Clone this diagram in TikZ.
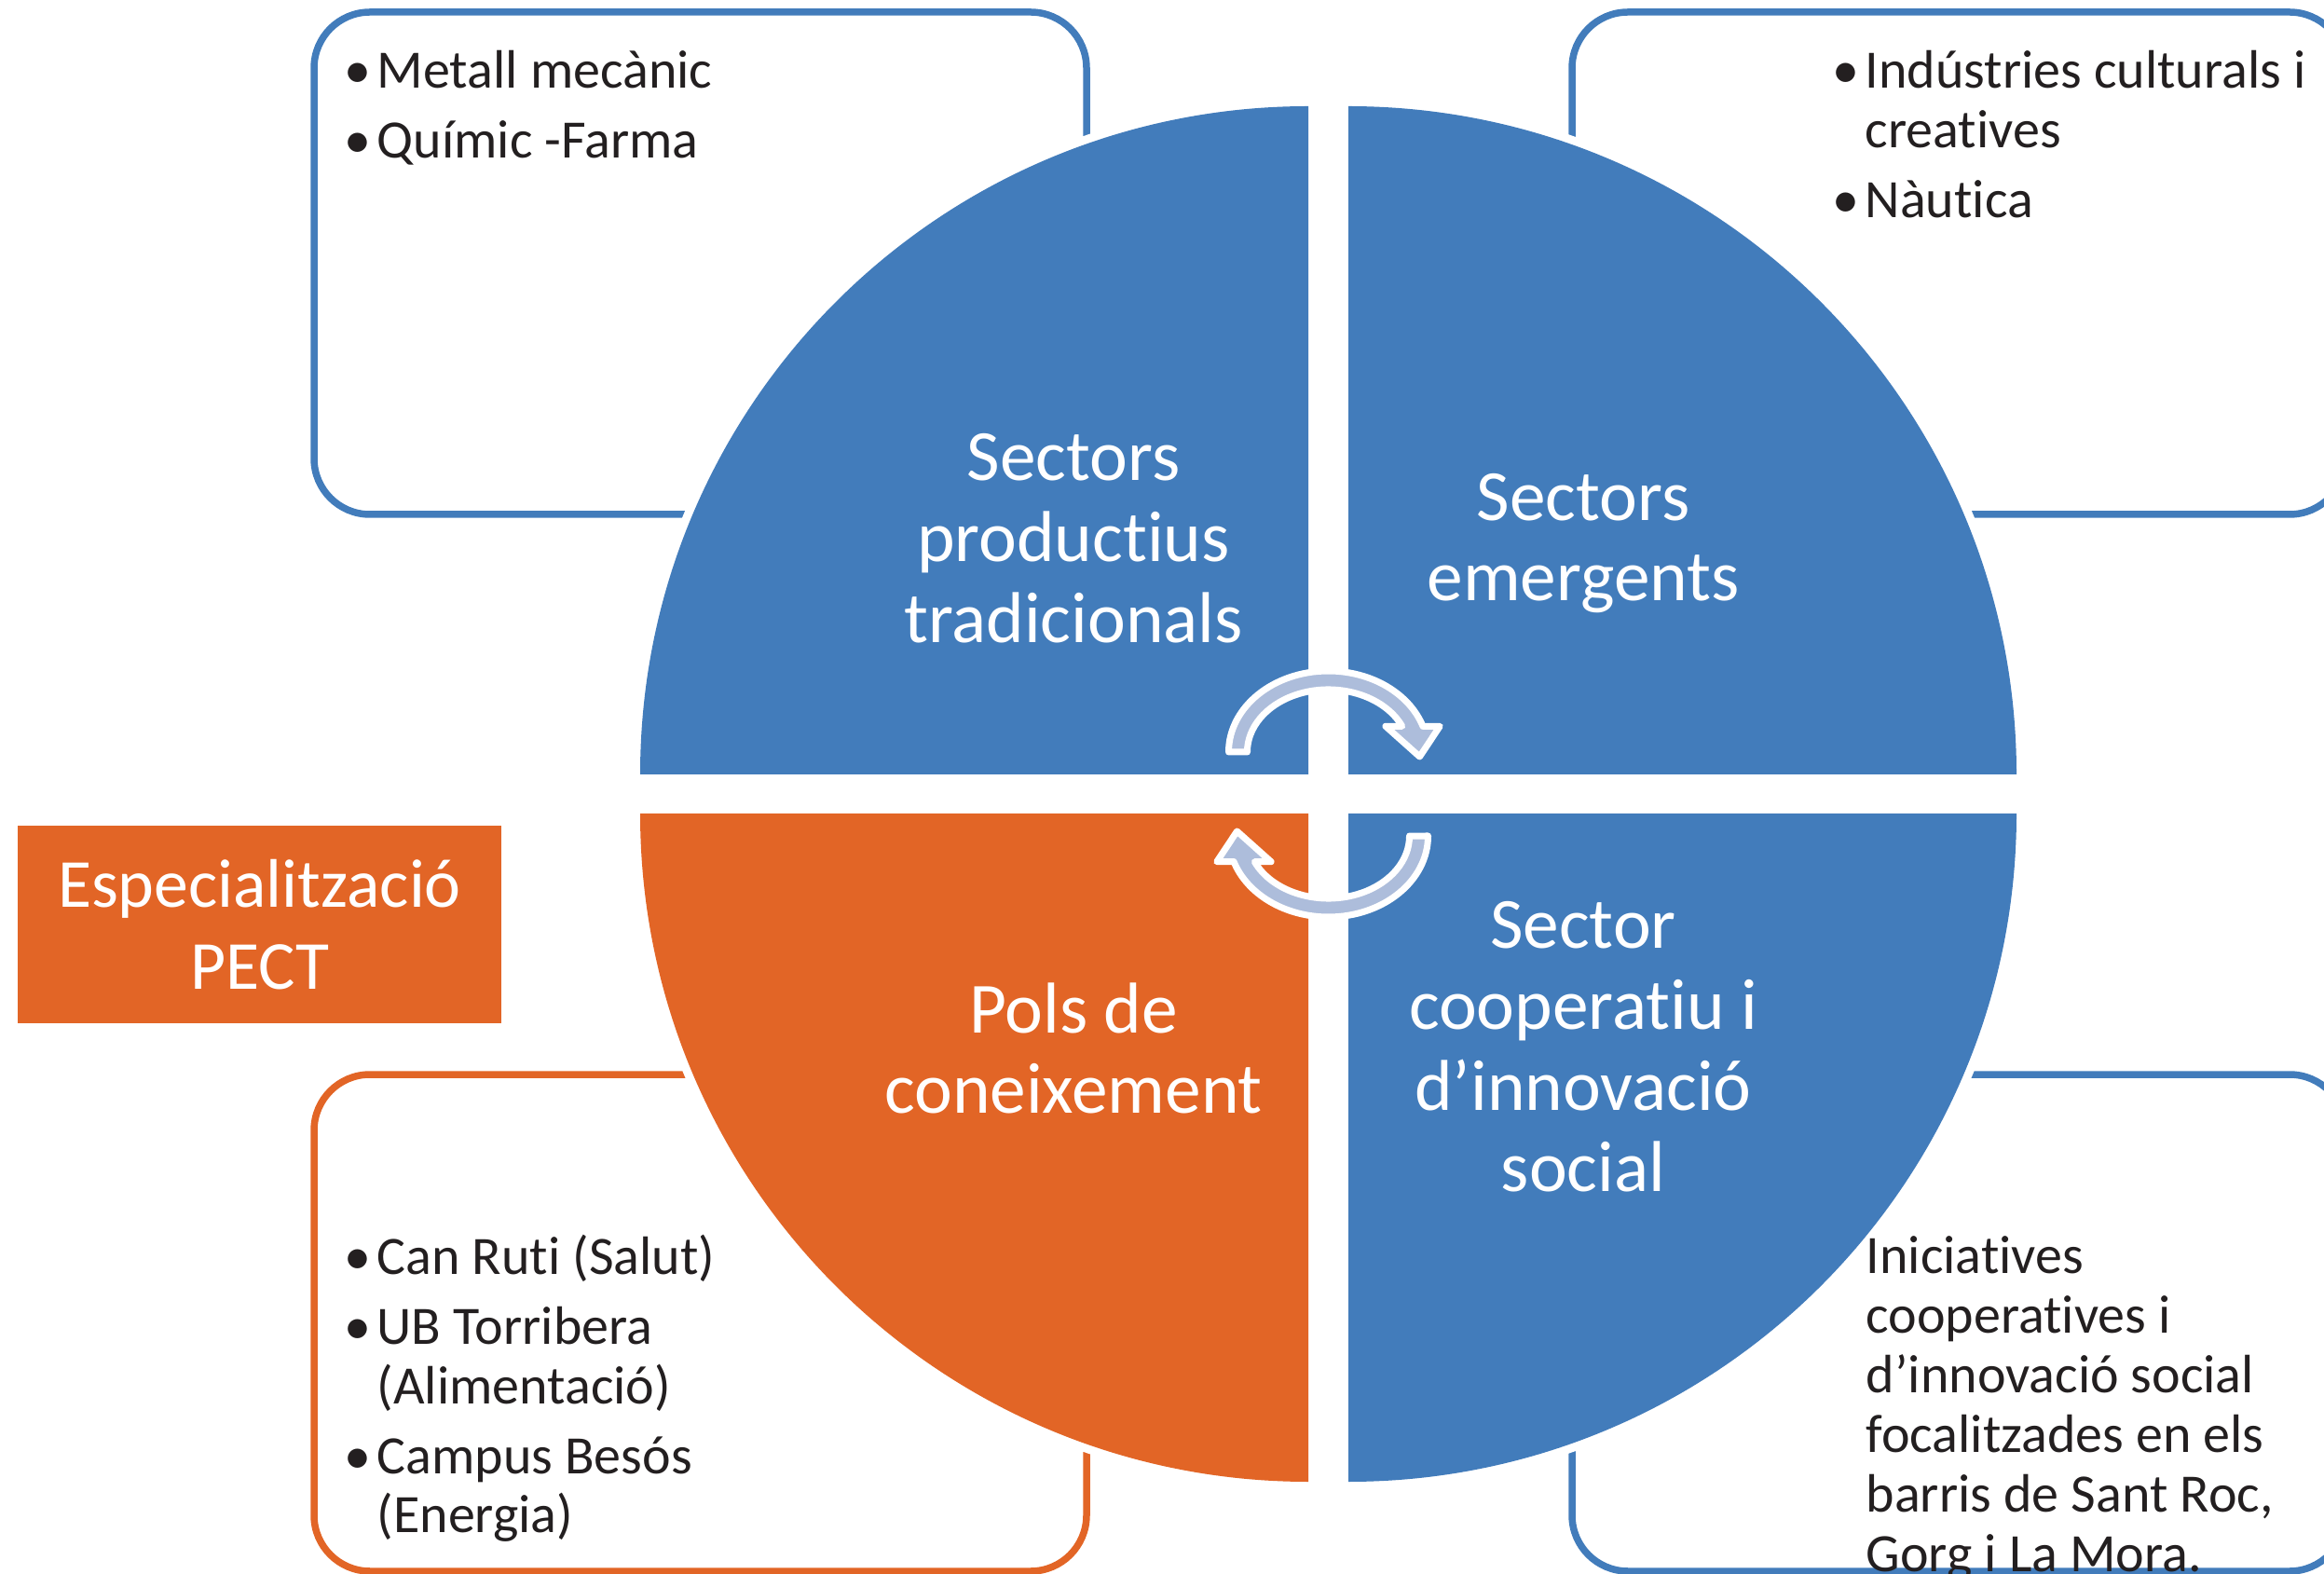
\documentclass[tikz,border=0pt]{standalone}
\usepackage{fontspec}
\setmainfont{Carlito}[Ligatures={NoCommon}]
\definecolor{pectblue}{HTML}{427CBB}
\definecolor{pectorange}{HTML}{E26526}
\definecolor{arrowfill}{HTML}{ADBDDB}
\definecolor{itemblack}{HTML}{231F20}
\newcommand{\itembul}{\makebox[0.35cm][l]{\textbullet}}
\newcommand{\itemgap}{\hspace*{0.35cm}}
\begin{document}
\begin{tikzpicture}[
        boxline/.style={line width=0.075cm, rounded corners=0.6cm},
        quadrant/.style={fill=#1, preaction={draw=white, line width=0.18cm}},
        sectorlabel/.style={text=white, align=center, inner sep=0pt, font=\fontsize{22}{24.7}\selectfont},
        itemlist/.style={text=itemblack, align=left, anchor=north west, inner sep=0pt, font=\fontsize{16.5}{18.2}\selectfont},
        cyclearrow/.style={fill=arrowfill, draw=white, line width=0.07cm, line join=round}]
    \useasboundingbox (0,0) rectangle (24.94,16.88);
    \clip (0,0) rectangle (24.94,16.88);
    % boxes behind the circle
    \draw[boxline, pectblue] (3.37,11.36) rectangle (11.66,16.75);
    \draw[boxline, pectblue] (16.87,11.36) rectangle (25.17,16.75);
    \draw[boxline, pectorange] (3.37,0.02) rectangle (11.66,5.35);
    \draw[boxline, pectblue] (16.87,0.02) rectangle (25.17,5.35);
    % four quarters
    \path[quadrant=pectblue] (14.04,8.57) -- ++(-7.17,0) arc[start angle=180, end angle=90, radius=7.17] -- cycle;
    \path[quadrant=pectblue] (14.47,8.57) -- ++(0,7.17) arc[start angle=90, end angle=0, radius=7.17] -- cycle;
    \path[quadrant=pectblue] (14.47,8.15) -- ++(7.17,0) arc[start angle=0, end angle=-90, radius=7.17] -- cycle;
    \path[quadrant=pectorange] (14.04,8.15) -- ++(0,-7.17) arc[start angle=-90, end angle=-180, radius=7.17] -- cycle;
    % the two turning arrows
    \foreach \turn in {0,180}{
        \begin{scope}[shift={(14.255,8.36)}, rotate=\turn]
            \path[cyclearrow] (-1.07,0.45) arc[start angle=180, end angle=18.5, x radius=1.07, y radius=0.87]
                -- (1.197,0.727) -- (0.98,0.40) -- (0.614,0.727) -- (0.792,0.727)
                arc[start angle=24.4, end angle=180, x radius=0.87, y radius=0.67] -- cycle;
        \end{scope}
    }
    % labels
    \node[sectorlabel] (tradicionals) at (11.52,11.10) {Sectors\\productius\\tradicionals};
    \node[sectorlabel] (emergents) at (16.99,11.05) {Sectors\\emergents};
    \node[sectorlabel] (coneixement) at (11.52,5.63) {Pols de\\coneixement};
    \node[sectorlabel] (cooperatiu) at (16.99,5.65) {Sector\\cooperatiu i\\d’innovació\\social};
    \node[itemlist] (metall) at (3.69,16.34) {\itembul Metall mecànic\\[0.11cm]\itembul Químic -Farma};
    \node[itemlist] (culturals) at (19.66,16.34) {\itembul Indústries culturals i\\\itemgap creatives\\[0.11cm]\itembul Nàutica};
    \node[itemlist] (canruti) at (3.69,3.64) {\itembul Can Ruti (Salut)\\[0.11cm]\itembul UB Torribera\\\itemgap (Alimentació)\\[0.11cm]\itembul Campus Besós\\\itemgap (Energia)};
    \node[itemlist] (iniciatives) at (20.02,3.62) {Iniciatives\\cooperatives i\\d’innovació social\\focalitzades en els\\barris de Sant Roc,\\Gorg i La Mora.};
    \node[fill=pectorange, minimum width=5.19cm, minimum height=2.12cm, text=white, align=center,
        font=\fontsize{21}{25}\selectfont] (pect) at (2.785,6.96) {Especialització\\PECT};
\end{tikzpicture}
\end{document}
